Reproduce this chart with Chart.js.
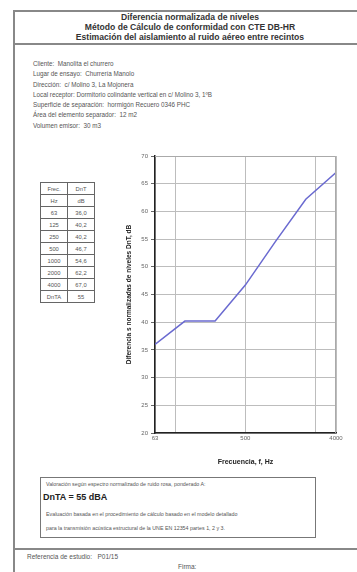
<!DOCTYPE html>
<html>
<head>
<meta charset="utf-8">
<script src="https://cdn.jsdelivr.net/npm/chart.js@4"></script>
<style>
  html, body { margin: 0; padding: 0; background: #fff; }
  body { width: 357px; height: 572px; position: relative; overflow: hidden;
         font-family: "Liberation Sans", Arial, sans-serif; color: #333; }
  .abs { position: absolute; }
  #leftRule { left: 13px; top: 10px; width: 2px; height: 562px; background: #888; }
  #head { left: 13px; top: 10px; width: 344px; height: 31px;
          border-top: 2px solid #888; border-bottom: 2px solid #888; }
  #head div { text-align: center; font-size: 8.6px; font-weight: bold; line-height: 10px; color: #333; padding-left: 10px; }
  #info { left: 33px; top: 59px; font-size: 6.3px; line-height: 10.3px; color: #555; }
  table { position: absolute; left: 40px; top: 182px; border-collapse: collapse; font-size: 5.8px; color: #555; }
  td { border: 1px solid #666; width: 26px; height: 11px; padding: 0; text-align: center; }
  #chartBox { left: 125px; top: 148px; width: 220px; height: 322px; }
  #box { left: 40px; top: 477px; width: 274px; height: 59px; border: 1px solid #777; }
  #box .small { position: absolute; left: 5px; font-size: 5.3px; color: #555; white-space: nowrap; }
  #dnta { position: absolute; left: 2px; top: 14px; font-size: 9px; font-weight: bold; color: #222; }
  #footRule { left: 13px; top: 548px; width: 344px; height: 2px; background: #888; }
  #ref { left: 27px; top: 553px; font-size: 6.5px; color: #555; }
  #firma { left: 178px; top: 563px; font-size: 6.5px; color: #555; }
</style>
</head>
<body>
<div id="leftRule" class="abs"></div>
<div id="head" class="abs">
  <div>Diferencia normalizada de niveles</div>
  <div>Método de Cálculo de conformidad con CTE DB-HR</div>
  <div>Estimación del aislamiento al ruido aéreo entre recintos</div>
</div>
<div id="info" class="abs">
  <div>Cliente:&nbsp; Manolita el churrero</div>
  <div>Lugar de ensayo:&nbsp; Churrería Manolo</div>
  <div>Dirección:&nbsp; c/ Molino 3, La Mojonera</div>
  <div>Local receptor: Dormitorio colindante vertical en c/ Molino 3, 1ºB</div>
  <div>Superficie de separación:&nbsp; hormigón Recuero 0346 PHC</div>
  <div>Área del elemento separador:&nbsp; 12 m2</div>
  <div>Volumen emisor:&nbsp; 30 m3</div>
</div>
<table id="tbl"></table>
<div id="chartBox" class="abs"><canvas id="dntChart" width="220" height="322"></canvas></div>
<div id="box" class="abs">
  <div class="small" style="top:3px">Valoración según espectro normalizado de ruido rosa, ponderado A:</div>
  <div id="dnta">DnTA = 55 dBA</div>
  <div class="small" style="top:33px">Evaluación basada en el procedimiento de cálculo basado en el modelo detallado</div>
  <div class="small" style="top:47px">para la transmisión acústica estructural de la UNE EN 12354 partes 1, 2 y 3.</div>
</div>
<div id="footRule" class="abs"></div>
<div id="ref" class="abs">Referencia de estudio:&nbsp;&nbsp; P01/15</div>
<div id="firma" class="abs">Firma:</div>

<script>
// ── Data ──────────────────────────────────────────────────────
const freqs     = [63, 125, 250, 500, 1000, 2000, 4000];
const dntValues = [36.0, 40.2, 40.2, 46.7, 54.6, 62.2, 67.0];
const dntTA     = 55;

const xTickValues = [63, 100, 500, 2520, 4000];   // gridlines
const xTickLabels = [63, 500, 4000];              // labelled ones
const yMin = 20, yMax = 70, yStep = 5;

// ── Table ─────────────────────────────────────────────────────
function fmt(v) { return v.toFixed(1).replace('.', ','); }

const tbl = document.getElementById('tbl');
const rows = [['Frec.', 'DnT'], ['Hz', 'dB']];
freqs.forEach((f, i) => rows.push([String(f), fmt(dntValues[i])]));
rows.push(['DnTA', String(dntTA)]);
rows.forEach(r => {
    const tr = document.createElement('tr');
    r.forEach(c => {
        const td = document.createElement('td');
        td.textContent = c;
        tr.appendChild(td);
    });
    tbl.appendChild(tr);
});

// ── Chart ─────────────────────────────────────────────────────
const points = freqs.map((f, i) => ({ x: f, y: dntValues[i] }));

new Chart(document.getElementById('dntChart').getContext('2d'), {
    type: 'scatter',
    data: {
        datasets: [{
            data: points,
            showLine: true,
            borderColor: '#6a6ad0',
            borderWidth: 1.5,
            pointRadius: 0,
            tension: 0
        }]
    },
    options: {
        responsive: false,
        animation: false,
        layout: { padding: { top: 8, right: 9, left: 0, bottom: 0 } },
        plugins: { legend: { display: false }, tooltip: { enabled: false } },
        scales: {
            x: {
                type: 'logarithmic',
                min: 63,
                max: 4000,
                afterBuildTicks: s => { s.ticks = xTickValues.map(v => ({ value: v })); },
                afterFit: s => { s.height = 37; },
                ticks: {
                    autoSkip: false,
                    maxRotation: 0,
                    padding: 2,
                    color: '#666',
                    font: { size: 6, family: 'Liberation Sans' },
                    callback: v => xTickLabels.includes(v) ? String(v) : ''
                },
                grid: { color: '#bdbdbd', lineWidth: 1, drawTicks: false },
                border: { color: '#222', width: 1.5 },
                title: {
                    display: true,
                    text: 'Frecuencia, f, Hz',
                    color: '#222',
                    padding: { top: 8 },
                    font: { size: 7, weight: 'bold', family: 'Liberation Sans' }
                }
            },
            y: {
                min: yMin,
                max: yMax,
                afterFit: s => { s.width = 30; },
                ticks: {
                    stepSize: yStep,
                    padding: 3,
                    color: '#666',
                    font: { size: 6, family: 'Liberation Sans' }
                },
                grid: { color: '#bdbdbd', lineWidth: 1, tickLength: 4, tickColor: '#666' },
                border: { color: '#222', width: 1.5 },
                title: {
                    display: true,
                    text: 'Diferencia s normalizadas de niveles DnT, dB',
                    color: '#222',
                    padding: { top: 0, bottom: 0 },
                    font: { size: 6.5, weight: 'bold', family: 'Liberation Sans' }
                }
            }
        }
    },
    plugins: [{
        id: 'frame',
        afterDraw(chart) {
            const { ctx, chartArea: a } = chart;
            ctx.save();
            ctx.strokeStyle = '#aaa';
            ctx.lineWidth = 1;
            ctx.beginPath();
            ctx.moveTo(a.left, a.top + 0.5);
            ctx.lineTo(a.right - 0.5, a.top + 0.5);
            ctx.lineTo(a.right - 0.5, a.bottom);
            ctx.stroke();
            ctx.restore();
        }
    }]
});
</script>
</body>
</html>
